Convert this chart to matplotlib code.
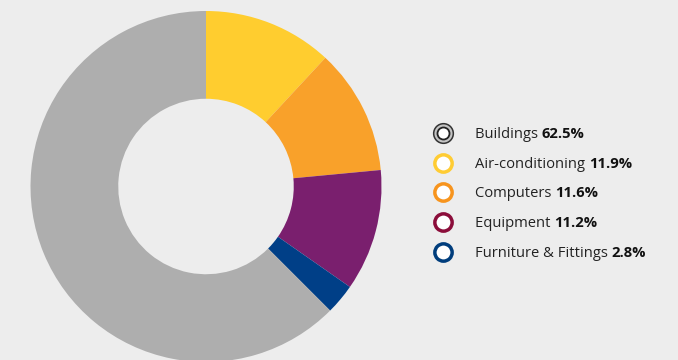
import matplotlib.pyplot as plt

plt.rcParams['font.family'] = ['Open Sans', 'DejaVu Sans']

# share of total by asset type, in the order the ring is drawn (clockwise from 12 o'clock)
labels = ['Air-conditioning', 'Computers', 'Equipment', 'Furniture & Fittings', 'Buildings']
shares = [11.9, 11.6, 11.2, 2.8, 62.5]
wedge_colors = ['#FFCD2F', '#F9A12A', '#7A1F6E', '#003F87', '#AEAEAE']

# legend order and ring colours
legend_labels = ['Buildings', 'Air-conditioning', 'Computers', 'Equipment', 'Furniture & Fittings']
legend_values = [62.5, 11.9, 11.6, 11.2, 2.8]
legend_colors = ['#555555', '#FFCC33', '#F7941D', '#8B0D3A', '#003D7C']

bg = '#EDEDED'
W, H = 678, 360
fig = plt.figure(figsize=(W / 100, H / 100), dpi=100, facecolor=bg)

# donut
cx, cy, r = 206, 173.5, 175.5
ax = fig.add_axes([(cx - r) / W, (cy - r) / H, 2 * r / W, 2 * r / H])
ax.set_facecolor(bg)
ax.pie(shares, colors=wedge_colors, startangle=90, counterclock=False,
       radius=1, wedgeprops=dict(width=0.5, linewidth=0))
ax.set_xlim(-1, 1)
ax.set_ylim(-1, 1)
ax.set_aspect('equal')
ax.axis('off')

# legend drawn in pixel coordinates
lg = fig.add_axes([0, 0, 1, 1])
lg.set_xlim(0, W)
lg.set_ylim(H, 0)
lg.axis('off')
lg.patch.set_alpha(0)

row_y = [133, 163, 192, 222, 252]
fs = 10.6
fig.canvas.draw()
for name, val, col, y in zip(legend_labels, legend_values, legend_colors, row_y):
    if name == 'Buildings':
        lg.scatter([443], [y], s=200, facecolor='#C4C4C4', edgecolor='#333333', linewidth=1.1, zorder=3)
        lg.scatter([443], [y], s=75, facecolor='white', edgecolor='#222222', linewidth=1.3, zorder=4)
    else:
        lg.scatter([443], [y], s=155, facecolor='white', edgecolor=col, linewidth=2.5, zorder=3)
    t = lg.text(475, y + 5, name + ' ', fontsize=fs, color='#222222', va='baseline', ha='left')
    bb = t.get_window_extent(renderer=fig.canvas.get_renderer())
    x_end = lg.transData.inverted().transform((bb.x1, bb.y0))[0]
    lg.text(x_end, y + 5, f'{val:.1f}%', fontsize=fs, color='#111111', fontweight='bold',
            va='baseline', ha='left')

fig.savefig('out.png', dpi=100, facecolor=bg)
